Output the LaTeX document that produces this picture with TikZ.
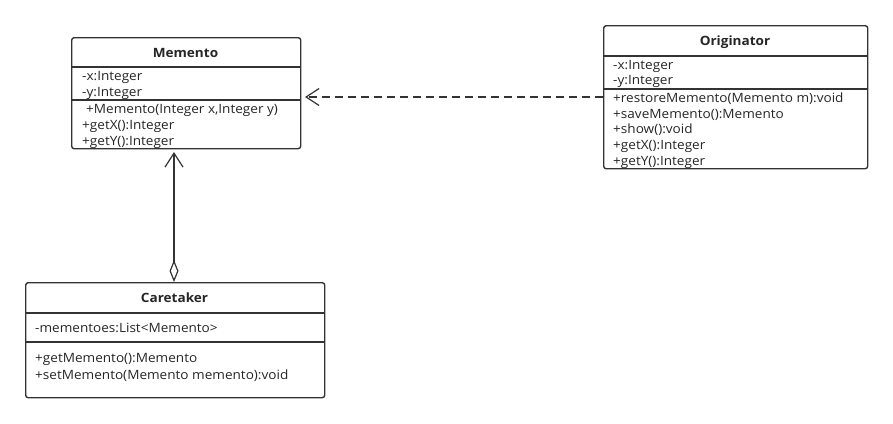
\documentclass[tikz,border=0pt]{standalone}
\usepackage{fontspec}
\setmainfont[FakeStretch=1.06]{Open Sans}
\usetikzlibrary{arrows.meta,calc}
\definecolor{umlline}{HTML}{333333}
\tikzset{
  umlbox/.style={draw=umlline, line width=1.4pt, rounded corners=2.5pt, fill=white, anchor=north west, inner sep=0pt},
  divider/.style={draw=umlline, line width=1.4pt},
  title/.style={font=\fontsize{12.8}{14}\selectfont\bfseries, text=black!85, anchor=base, inner sep=0pt},
  member/.style={font=\fontsize{12.8}{14}\selectfont, text=black!85, anchor=base west, inner sep=0pt},
  dep/.style={draw=umlline, line width=1.4pt, dash pattern=on 8pt off 5pt, -{Straight Barb[length=13pt,width=17pt,line width=1.2pt]}},
  agg/.style={draw=umlline, line width=1.4pt, {Diamond[open,length=22pt,width=9pt,line width=1.2pt]}-{Straight Barb[length=14pt,width=18pt,line width=1.2pt]}}
}
\begin{document}
\begin{tikzpicture}[x=1pt,y=-1pt]
\useasboundingbox (0,0) rectangle (893,423);
% Memento
\node[umlbox, minimum width=229pt, minimum height=111pt] (mem) at (71,37) {};
\draw[divider] (71,67) -- (300,67);
\draw[divider] (71,100) -- (300,100);
\node[title] (memt) at (185.5,57) {Memento};
\node[member] (mem1) at (82,80.5) {-x:Integer};
\node[member] (mem2) at (82,96) {-y:Integer};
\node[member] (mem3) at (86,113) {+Memento(Integer x,Integer y)};
\node[member] (mem4) at (82,129) {+getX():Integer};
\node[member] (mem5) at (82,145) {+getY():Integer};
% Originator
\node[umlbox, minimum width=264pt, minimum height=143pt] (ori) at (603,25) {};
\draw[divider] (603,56) -- (867,56);
\draw[divider] (603,89) -- (867,89);
\node[title] (orit) at (735,45) {Originator};
\node[member] (ori1) at (613,69.5) {-x:Integer};
\node[member] (ori2) at (613,84.5) {-y:Integer};
\node[member] (ori3) at (613,102) {+restoreMemento(Memento m):void};
\node[member] (ori4) at (613,118) {+saveMemento():Memento};
\node[member] (ori5) at (613,133) {+show():void};
\node[member] (ori6) at (613,149) {+getX():Integer};
\node[member] (ori7) at (613,165) {+getY():Integer};
% Caretaker
\node[umlbox, minimum width=299pt, minimum height=115pt] (car) at (25,282) {};
\draw[divider] (25,313) -- (324,313);
\draw[divider] (25,342) -- (324,342);
\node[title] (cart) at (174.5,302) {Caretaker};
\node[member] (car1) at (35,332) {-mementoes:List<Memento>};
\node[member] (car2) at (35,362) {+getMemento():Memento};
\node[member] (car3) at (35,379) {+setMemento(Memento memento):void};
% connectors
\coordinate (depstart) at (603,97);
\coordinate (depend) at (305,97);
\draw[dep] (depstart) -- (depend);
\coordinate (aggstart) at (174,282);
\coordinate (aggend) at (174,152);
\draw[agg] (aggstart) -- (aggend);
\end{tikzpicture}
\end{document}
